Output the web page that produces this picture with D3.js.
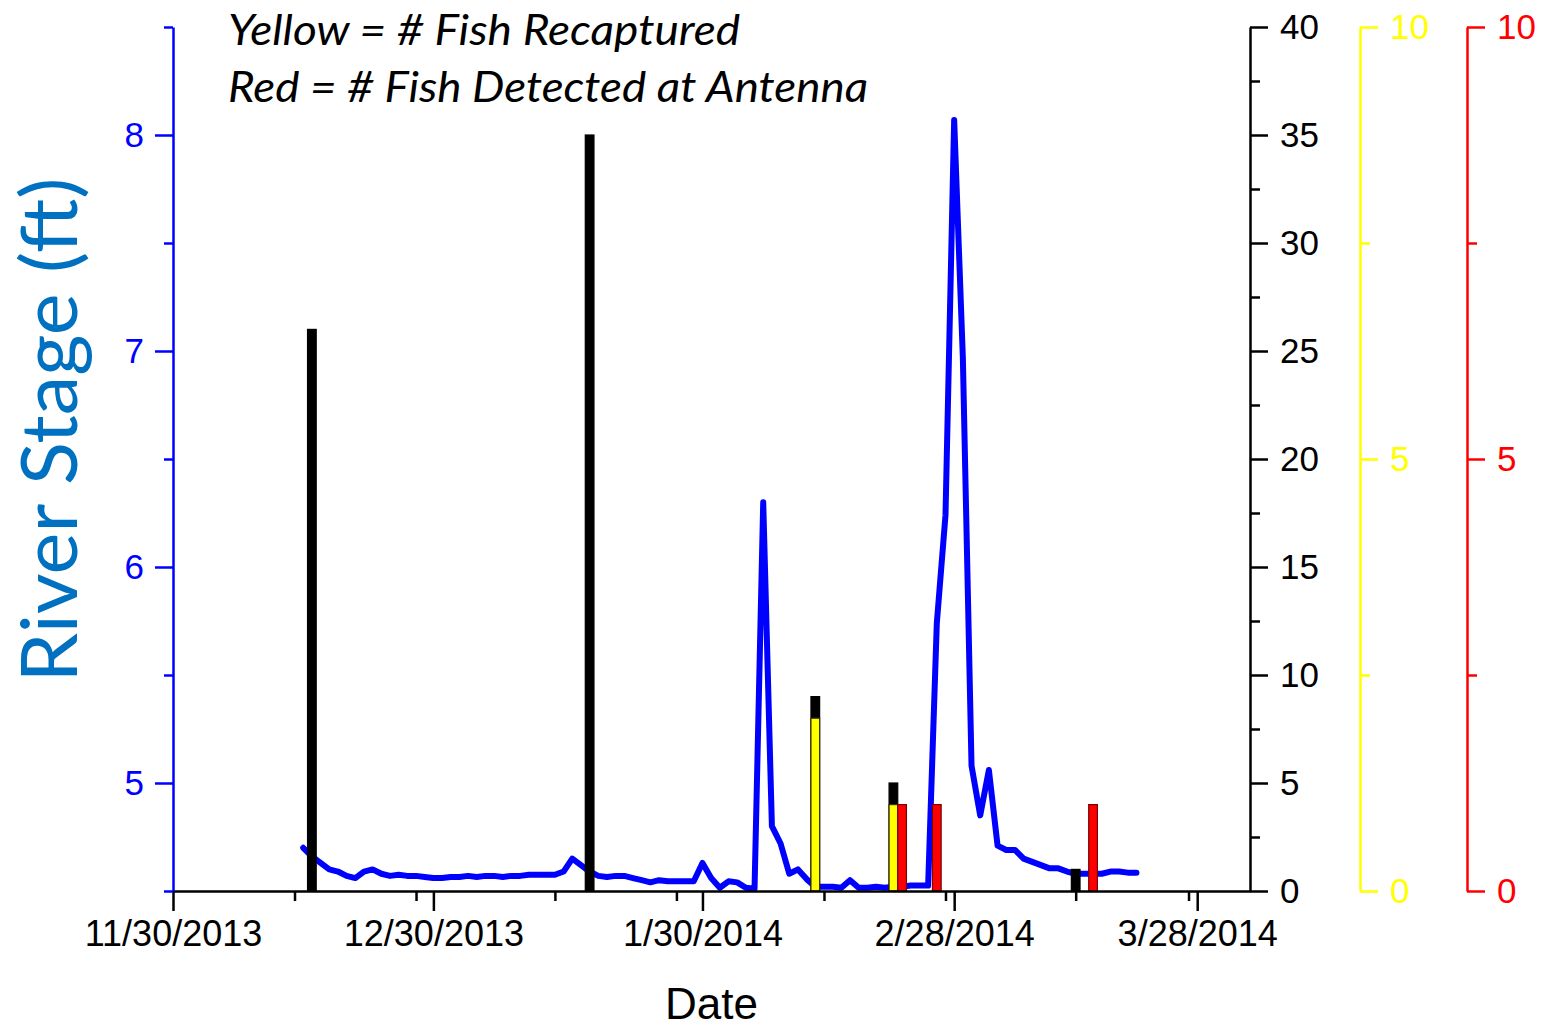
<!DOCTYPE html>
<html>
<head>
<meta charset="utf-8">
<script src="https://cdn.jsdelivr.net/npm/d3@7"></script>
<style>
  html, body { margin: 0; padding: 0; background: #ffffff; }
  svg { display: block; }
  .tick text { font-family: "Liberation Sans", Arial, sans-serif; }
</style>
</head>
<body>
<svg id="chart" width="1545" height="1027"></svg>
<script>
// Daily river stage (ft), starting 12/15/2013
const stageStart = "2013-12-15";
const stageValues = [
  4.70, 4.66, 4.63, 4.60, 4.59, 4.57, 4.56, 4.59, 4.60, 4.58,
  4.57, 4.575, 4.57, 4.57, 4.565, 4.56, 4.56, 4.565, 4.565, 4.57,
  4.565, 4.57, 4.57, 4.565, 4.57, 4.57, 4.575, 4.575, 4.575, 4.575,
  4.59, 4.65, 4.62, 4.59, 4.57, 4.565, 4.57, 4.57, 4.56, 4.55,
  4.54, 4.55, 4.545, 4.545, 4.545, 4.545, 4.63, 4.56, 4.515, 4.545,
  4.54, 4.515, 4.51, 6.30, 4.80, 4.72, 4.58, 4.60, 4.555, 4.52,
  4.52, 4.52, 4.515, 4.55, 4.515, 4.515, 4.52, 4.515, 4.52, 4.52,
  4.525, 4.525, 4.525, 5.74, 6.24, 8.07, 6.97, 5.08, 4.85, 5.06,
  4.71, 4.69, 4.69, 4.65, 4.635, 4.62, 4.605, 4.605, 4.59, 4.58,
  4.58, 4.58, 4.58, 4.59, 4.59, 4.585, 4.585
];

// Fish counts (black axis)
const blackDates  = ["2013-12-16", "2014-01-17", "2014-02-12", "2014-02-21", "2014-03-14"];
const blackCounts = [26, 35, 9, 5, 1];

// Fish recaptured (yellow axis)
const yellowDates  = ["2014-02-12", "2014-02-21"];
const yellowCounts = [2, 1];

// Fish detected at antenna (red axis)
const redDates  = ["2014-02-22", "2014-02-26", "2014-03-16"];
const redCounts = [1, 1, 1];

// Axis tick labels
const xMajorTicks = ["2013-11-30", "2013-12-30", "2014-01-30", "2014-02-28", "2014-03-28"];
const xMinorTicks = ["2013-12-14", "2013-12-28", "2014-01-13", "2014-01-27", "2014-02-13", "2014-02-27", "2014-03-14", "2014-03-27"];
const stageTicks = [5, 6, 7, 8];
const stageMinorTicks = [4.5, 5.5, 6.5, 7.5, 8.5];
const countTicks = [0, 5, 10, 15, 20, 25, 30, 35, 40];
const countMinorTicks = [2.5, 7.5, 12.5, 17.5, 22.5, 27.5, 32.5, 37.5];
const smallTicks = [0, 5, 10];
const smallMinorTicks = [2.5, 7.5];

(function () {
  const parse = d3.utcParse("%Y-%m-%d");
  const fmt = d3.utcFormat("%-m/%-d/%Y");

  const svg = d3.select("#chart");
  const plotLeft = 173, plotRight = 1250, plotTop = 27, plotBottom = 891;

  const x = d3.scaleUtc()
    .domain([parse("2013-11-30"), new Date(Date.UTC(2014, 3, 3, 2))])
    .range([plotLeft, plotRight]);
  const yStage = d3.scaleLinear().domain([4.5, 8.5]).range([plotBottom, plotTop]);
  const yCount = d3.scaleLinear().domain([0, 40]).range([plotBottom, plotTop]);
  const ySmall = d3.scaleLinear().domain([0, 10]).range([plotBottom, plotTop]);

  const tickFont = 35;

  function styleAxis(g, color, width) {
    g.select(".domain").attr("stroke", color).attr("stroke-width", width);
    g.selectAll(".tick line").attr("stroke", color).attr("stroke-width", width);
    g.selectAll(".tick text").attr("fill", color).style("font-size", tickFont + "px");
  }

  // River stage line
  const stageData = stageValues.map((v, i) => ({ date: d3.utcDay.offset(parse(stageStart), i), value: v }));
  const line = d3.line().x(d => x(d.date)).y(d => yStage(d.value));
  svg.append("path")
    .datum(stageData)
    .attr("d", line)
    .attr("fill", "none")
    .attr("stroke", "#0000ff")
    .attr("stroke-width", 6)
    .attr("stroke-linejoin", "round")
    .attr("stroke-linecap", "round");

  // Bars: one day wide, centred on the date
  const barX = d => x(d3.utcHour.offset(d, -12));
  const barW = d => x(d3.utcHour.offset(d, 12)) - x(d3.utcHour.offset(d, -12));

  function drawBars(dates, counts, scale, fill, stroke) {
    const data = dates.map((s, i) => ({ date: parse(s), count: counts[i] }));
    svg.append("g").selectAll("rect")
      .data(data)
      .join("rect")
      .attr("x", d => barX(d.date))
      .attr("width", d => barW(d.date))
      .attr("y", d => scale(d.count))
      .attr("height", d => plotBottom - scale(d.count))
      .attr("fill", fill)
      .attr("stroke", stroke)
      .attr("stroke-width", 1.2);
  }
  drawBars(blackDates, blackCounts, yCount, "#000000", "#000000");
  drawBars(yellowDates, yellowCounts, ySmall, "#ffff00", "#333300");
  drawBars(redDates, redCounts, ySmall, "#ff0000", "#7a0000");

  // Bottom date axis
  const xMajor = svg.append("g").attr("transform", `translate(0,${plotBottom})`)
    .call(d3.axisBottom(x).tickValues(xMajorTicks.map(parse)).tickFormat(fmt)
      .tickSize(20).tickSizeOuter(0).tickPadding(9));
  styleAxis(xMajor, "#000", 2.5);
  xMajor.selectAll(".tick text").style("font-size", "36px");
  const xMinor = svg.append("g").attr("transform", `translate(0,${plotBottom})`)
    .call(d3.axisBottom(x).tickValues(xMinorTicks.map(parse)).tickFormat("").tickSize(10));
  styleAxis(xMinor, "#000", 2.5);
  xMinor.select(".domain").remove();

  svg.append("text")
    .attr("x", (plotLeft + plotRight) / 2)
    .attr("y", 1019)
    .attr("text-anchor", "middle")
    .style("font-family", "'Liberation Sans', Arial, sans-serif")
    .style("font-size", "44px")
    .attr("fill", "#000")
    .text("Date");

  // Left river stage axis
  const yL = svg.append("g").attr("transform", `translate(${plotLeft},0)`)
    .call(d3.axisLeft(yStage).tickValues(stageTicks).tickFormat(d3.format("d"))
      .tickSize(18).tickSizeOuter(0).tickPadding(11));
  styleAxis(yL, "#0000ff", 2.5);
  const yLm = svg.append("g").attr("transform", `translate(${plotLeft},0)`)
    .call(d3.axisLeft(yStage).tickValues(stageMinorTicks).tickFormat("").tickSize(9));
  styleAxis(yLm, "#0000ff", 2.5);
  yLm.select(".domain").remove();

  svg.append("text")
    .attr("transform", "translate(77,430) rotate(-90)")
    .attr("text-anchor", "middle")
    .attr("textLength", 505)
    .attr("lengthAdjust", "spacingAndGlyphs")
    .style("font-family", "Lato, 'Open Sans', sans-serif")
    .style("font-size", "78px")
    .attr("fill", "#0070c0")
    .text("River Stage (ft)");

  // Right-hand count axes
  function rightAxis(xPos, scale, major, minor, color) {
    const g = svg.append("g").attr("transform", `translate(${xPos},0)`)
      .call(d3.axisRight(scale).tickValues(major).tickFormat(d3.format("d"))
        .tickSize(18).tickSizeOuter(0).tickPadding(12));
    styleAxis(g, color, 2.5);
    const m = svg.append("g").attr("transform", `translate(${xPos},0)`)
      .call(d3.axisRight(scale).tickValues(minor).tickFormat("").tickSize(10));
    styleAxis(m, color, 2.5);
    m.select(".domain").remove();
  }
  rightAxis(plotRight, yCount, countTicks, countMinorTicks, "#000000");
  rightAxis(1360, ySmall, smallTicks, smallMinorTicks, "#ffff00");
  rightAxis(1467, ySmall, smallTicks, smallMinorTicks, "#ff0000");

  // Colour key notes
  const notes = [
    { text: "Yellow = # Fish Recaptured", y: 45, len: 512 },
    { text: "Red = # Fish Detected at Antenna", y: 102, len: 640 }
  ];
  svg.append("g").selectAll("text")
    .data(notes)
    .join("text")
    .attr("x", 228)
    .attr("y", d => d.y)
    .attr("textLength", d => d.len)
    .attr("lengthAdjust", "spacingAndGlyphs")
    .style("font-family", "Lato, 'Open Sans', sans-serif")
    .style("font-style", "italic")
    .style("font-size", "43px")
    .attr("fill", "#000")
    .text(d => d.text);
})();
</script>
</body>
</html>
